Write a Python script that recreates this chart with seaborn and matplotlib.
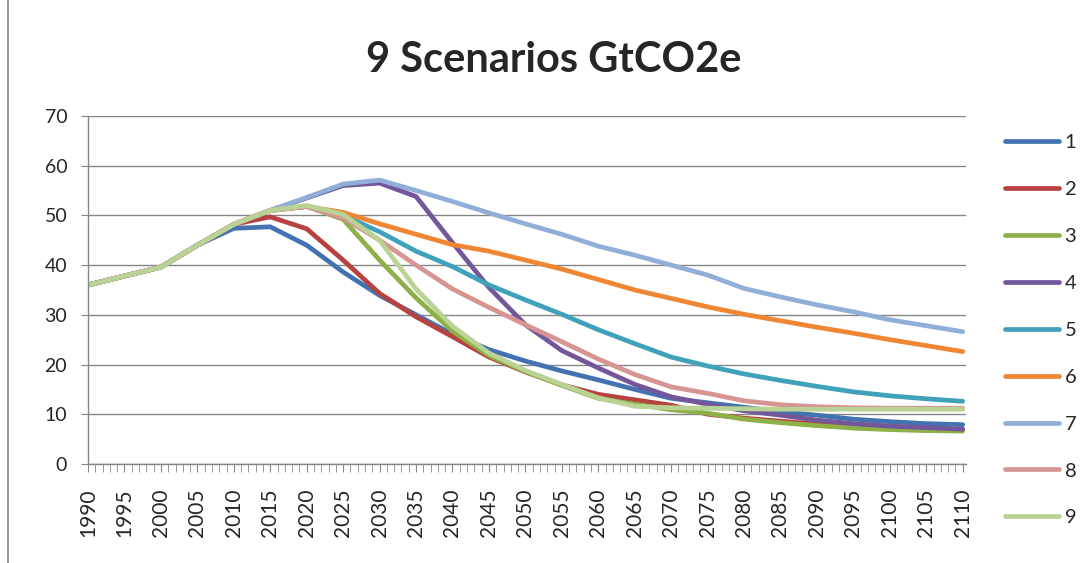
import numpy as np
import pandas as pd
import matplotlib
matplotlib.use("Agg")
import matplotlib.pyplot as plt
import seaborn as sns
from matplotlib.lines import Line2D

# ---- DATA (every 5 years) ----
years = list(range(1990, 2111, 5))

s1 = [36.0, 37.8, 39.6, 44.0, 47.4, 47.7, 44.0, 38.6, 33.9, 30.0, 26.1, 23.0, 20.7,
      18.7, 16.9, 15.0, 13.2, 12.3, 11.4, 10.5, 9.8, 9.0, 8.5, 8.1, 7.9]
s2 = [36.0, 37.8, 39.6, 44.0, 48.2, 49.7, 47.3, 41.0, 34.3, 29.6, 25.6, 21.5, 18.5,
      15.9, 14.0, 12.9, 11.8, 10.0, 9.2, 8.6, 8.0, 7.5, 7.1, 6.9, 6.8]
s3 = [36.0, 37.8, 39.6, 44.0, 48.2, 51.0, 51.8, 49.2, 41.0, 33.4, 26.7, 21.8, 18.6,
      15.8, 13.2, 12.0, 10.9, 10.2, 9.0, 8.3, 7.7, 7.2, 6.9, 6.7, 6.6]
s4 = [36.0, 37.8, 39.6, 44.0, 48.2, 51.0, 53.5, 56.0, 56.5, 53.8, 44.5, 35.5, 28.0,
      22.8, 19.3, 16.0, 13.5, 12.0, 10.7, 9.8, 8.8, 8.1, 7.6, 7.3, 7.0]
s5 = [36.0, 37.8, 39.6, 44.0, 48.2, 51.0, 51.8, 50.0, 46.7, 42.8, 39.7, 36.0, 33.0,
      30.1, 27.0, 24.2, 21.5, 19.7, 18.1, 16.8, 15.6, 14.5, 13.7, 13.1, 12.6]
s6 = [36.0, 37.8, 39.6, 44.0, 48.2, 51.0, 51.8, 50.6, 48.3, 46.2, 44.1, 42.8, 41.0,
      39.2, 37.1, 35.0, 33.3, 31.6, 30.1, 28.8, 27.5, 26.3, 25.0, 23.8, 22.6]
s7 = [36.0, 37.8, 39.6, 44.0, 48.2, 51.0, 53.6, 56.3, 57.1, 55.0, 52.8, 50.5, 48.3,
      46.2, 43.8, 42.0, 40.0, 38.0, 35.3, 33.6, 32.0, 30.6, 29.0, 27.8, 26.6]
s8 = [36.0, 37.8, 39.6, 44.0, 48.2, 51.0, 51.8, 49.5, 45.0, 40.0, 35.2, 31.5, 28.0,
      24.6, 21.1, 18.0, 15.5, 14.2, 12.7, 11.9, 11.5, 11.3, 11.2, 11.2, 11.2]
s9 = [36.0, 37.8, 39.6, 44.0, 48.2, 51.0, 52.0, 50.2, 45.0, 35.2, 27.7, 22.3, 18.8,
      16.0, 13.3, 11.6, 11.3, 11.2, 11.1, 11.0, 11.0, 11.0, 11.0, 11.0, 11.0]

scenario_names = ["1", "2", "3", "4", "5", "6", "7", "8", "9"]
colors = ["#4273b0", "#b8423f", "#8db048", "#74579a", "#3fa1ba",
          "#ee8634", "#91aed8", "#d69492", "#b9d295"]


def main():
    series = [s1, s2, s3, s4, s5, s6, s7, s8, s9]
    df = pd.concat(
        [pd.DataFrame({"year": years, "value": vals, "scenario": name})
         for name, vals in zip(scenario_names, series)],
        ignore_index=True,
    )

    sns.set_style("white")
    plt.rcParams["font.family"] = ["Lato", "DejaVu Sans"]

    fig = plt.figure(figsize=(10.87, 5.63), dpi=100)
    ax = fig.add_axes([0.081, 0.176, 0.808, 0.618])

    sns.lineplot(data=df, x="year", y="value", hue="scenario",
                 hue_order=scenario_names, palette=colors,
                 linewidth=3.4, ax=ax, legend=True)

    ax.set_xlim(1990, 2110.5)
    ax.set_ylim(0, 70)
    ax.set_yticks(range(0, 71, 10))
    ax.set_xticks(years)
    ax.set_xticks(range(1990, 2111), minor=True)
    ax.set_xticklabels([str(y) for y in years], rotation=90, fontsize=15)
    ax.tick_params(axis="y", labelsize=14, length=5, color="#868686",
                   direction="out", left=True, pad=10)
    ax.tick_params(axis="x", which="both", length=6, color="#868686",
                   direction="out", bottom=True, pad=12)

    ax.yaxis.grid(True, color="#868686", linewidth=1.0)
    ax.set_axisbelow(True)
    for side in ["top", "right"]:
        ax.spines[side].set_visible(False)
    for side in ["left", "bottom"]:
        ax.spines[side].set_color("#868686")
        ax.spines[side].set_linewidth(1.0)
    ax.set_xlabel("")
    ax.set_ylabel("")

    leg = ax.legend(loc="upper left", bbox_to_anchor=(0.908, 0.794),
                    bbox_transform=fig.transFigure, frameon=False,
                    fontsize=14.5, handlelength=2.7, handletextpad=0.25,
                    labelspacing=1.48)
    for line in leg.get_lines():
        line.set_linewidth(3.4)
        line.set_solid_capstyle("round")

    fig.suptitle("9 Scenarios GtCO2e", x=0.509, y=0.893, va="center",
                 fontsize=30, fontweight="bold")

    # chart frame edge on the left
    fig.add_artist(Line2D([0.007, 0.007], [0, 1], transform=fig.transFigure,
                          color="#868686", linewidth=1.2))

    fig.savefig("out.png", dpi=100)


if __name__ == "__main__":
    main()
